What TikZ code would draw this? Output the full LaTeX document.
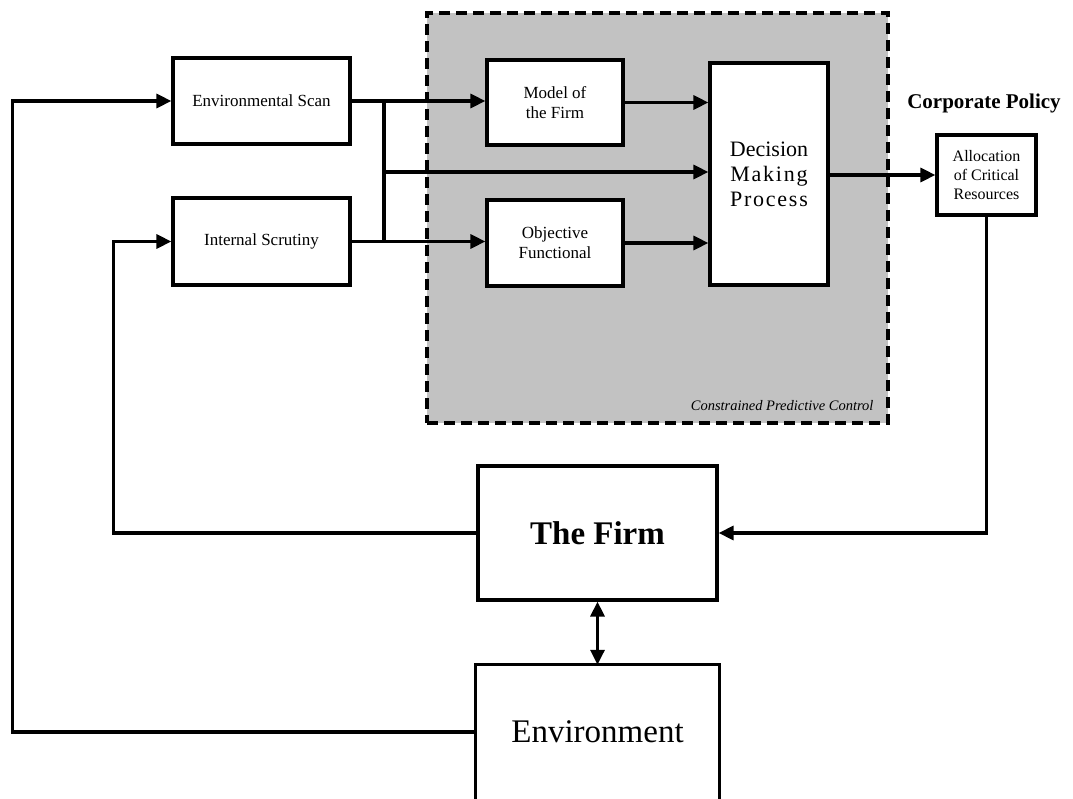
\documentclass[tikz,border=0pt]{standalone}
\usepackage{fontspec}
\setmainfont{Liberation Serif}
\usetikzlibrary{arrows.meta}
\begin{document}
\begin{tikzpicture}[x=1pt,y=-1pt,
  box/.style={draw=black,line width=3.2pt,fill=white,inner sep=0pt,align=center,font=\fontsize{17}{20}\selectfont},
  wire/.style={line width=3.2pt},
  arr/.style={line width=3.2pt,-{Triangle[length=15pt,width=14pt]}},
  darr/.style={line width=3.2pt,{Triangle[length=15pt,width=14pt]}-{Triangle[length=15pt,width=14pt]}},
  region/.style={fill=black!24,draw=black,line width=3.2pt,dash pattern=on 11pt off 6pt}]
\useasboundingbox (0,0) rectangle (1073,799);
\clip (0,0) rectangle (1073,799);
% shaded region
\node[region,minimum width=461pt,minimum height=410pt,inner sep=0pt] (cpc) at (657.5,218) {};
\node[anchor=base east,font=\fontsize{14.5}{17}\selectfont\itshape] (cpclabel) at (877,410) {Constrained Predictive Control};
% boxes
\node[box,minimum width=177pt,minimum height=86pt] (envscan) at (261.5,101) {Environmental Scan};
\node[box,minimum width=177pt,minimum height=87pt] (intscr) at (261.5,241.5) {Internal Scrutiny};
\node[box,minimum width=136pt,minimum height=85pt] (model) at (555,102.5) {Model of\\the Firm};
\node[box,minimum width=136pt,minimum height=86pt] (objf) at (555,243) {Objective\\Functional};
\node[box,minimum width=118pt,minimum height=222pt,font=\fontsize{22}{25}\selectfont] (dmp) at (769,174)
  {Decision\\{\addfontfeature{LetterSpace=8}Making}\\{\addfontfeature{LetterSpace=8}Process}};
\node[box,minimum width=99pt,minimum height=80pt,font=\fontsize{16}{19}\selectfont] (alloc) at (986.5,175) {Allocation\\of Critical\\Resources};
\node[font=\fontsize{21}{24}\selectfont\bfseries] (cp) at (984,103) {Corporate Policy};
\node[box,minimum width=239pt,minimum height=134pt,font=\fontsize{33}{38}\selectfont\bfseries] (firm) at (597.5,533) {The Firm};
\node[minimum width=243pt,minimum height=134pt,inner sep=0pt,font=\fontsize{33}{38}\selectfont] (env) at (597.5,732) {Environment};
\draw[wire] ([yshift=-12pt]env.south west) -- (env.north west) -- (env.north east) -- ([yshift=-12pt]env.south east);
% junction
\coordinate (jt) at (384,101);
\coordinate (jm) at (384,172);
\coordinate (jb) at (384,241.5);
% connectors
\draw[arr] (envscan.east) -- (envscan.east -| model.west);
\draw[wire] (jt) -- (jb);
\draw[arr] (jm) -- (jm -| dmp.west);
\draw[arr] (intscr.east) -- (intscr.east -| objf.west);
\draw[arr] (model.east) -- (model.east -| dmp.west);
\draw[arr] (objf.east) -- (objf.east -| dmp.west);
\draw[arr] (dmp.east |- alloc.west) -- (alloc.west);
\draw[arr] (alloc.south) |- (firm.east);
\draw[darr] (firm.south) -- (env.north);
\draw[arr] (firm.west) -- ++(-363,0) |- (intscr.west);
\draw[arr] (env.west) -- ++(-463,0) |- (envscan.west);
\end{tikzpicture}
\end{document}
